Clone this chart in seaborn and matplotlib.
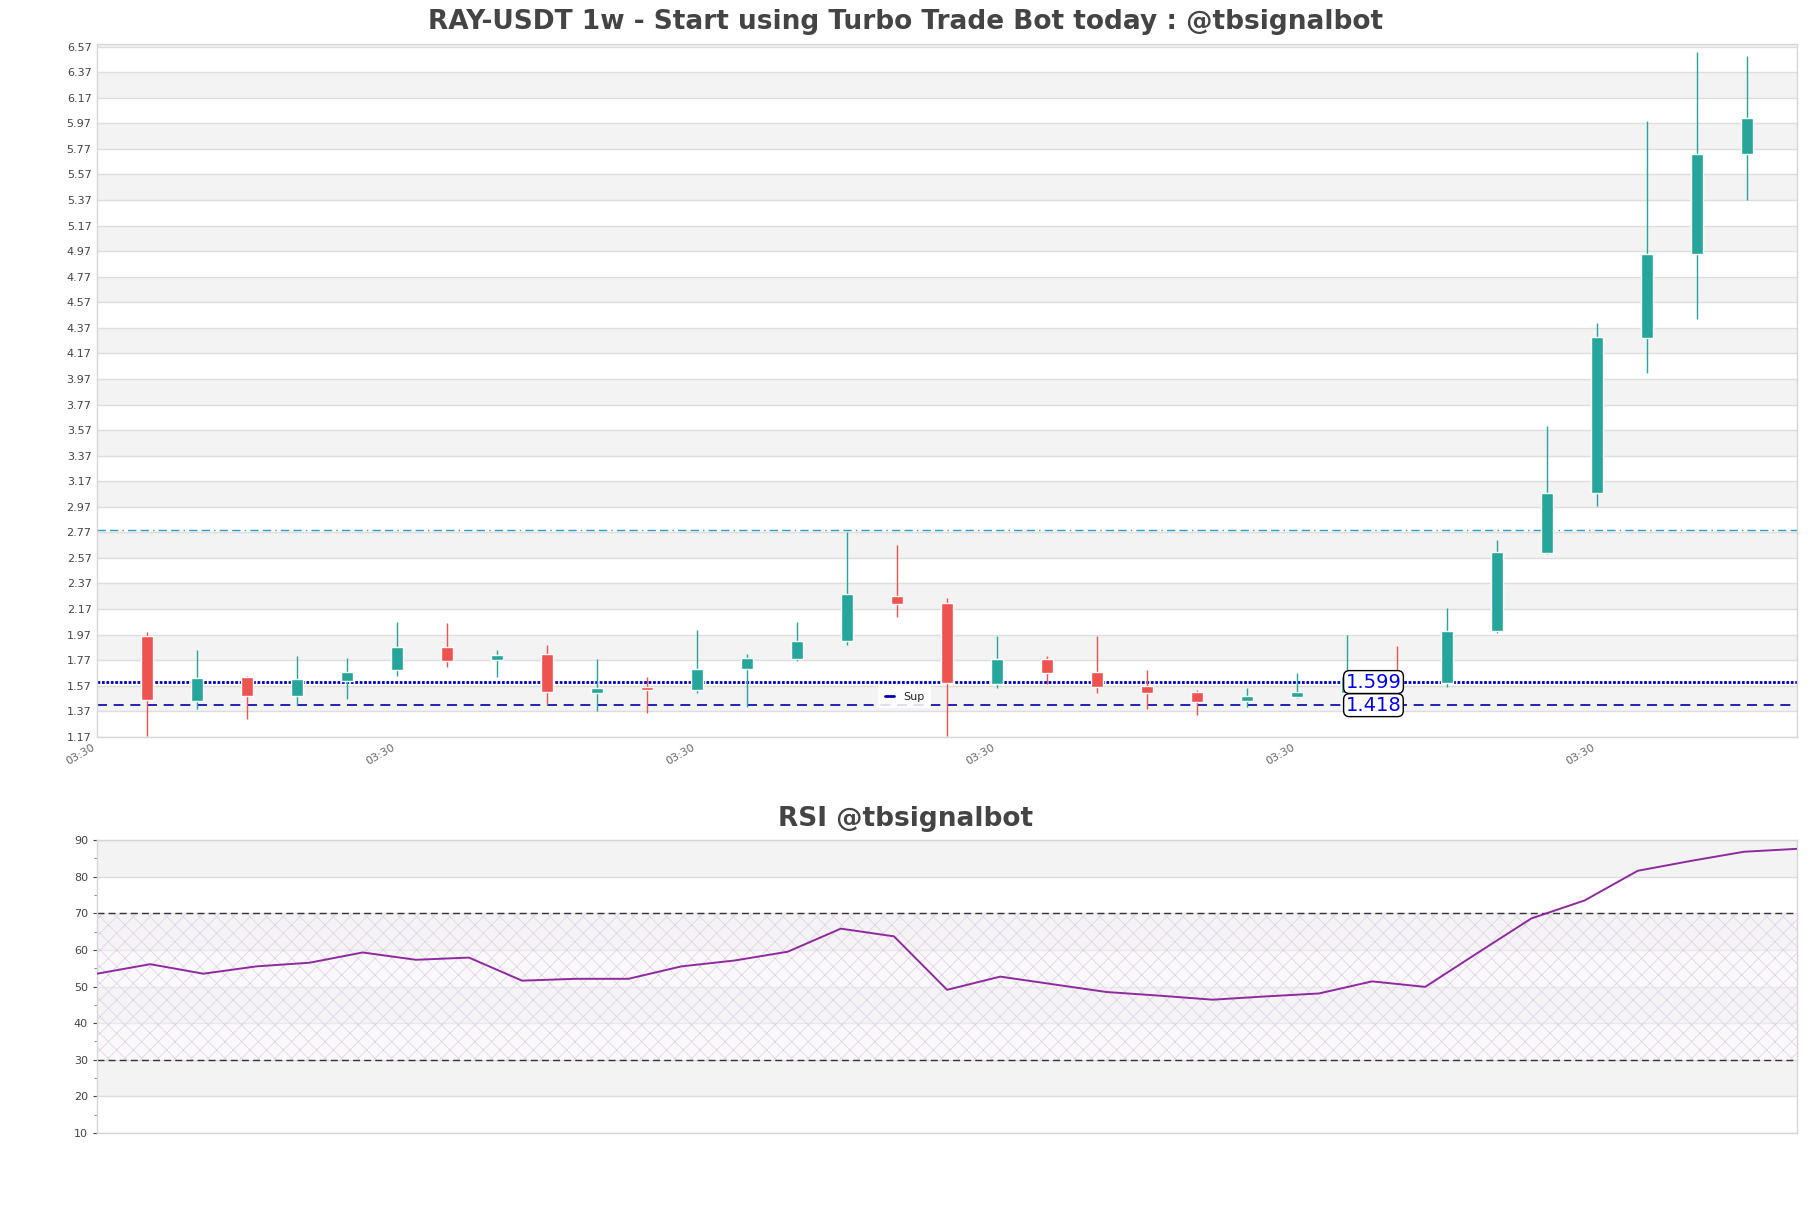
import numpy as np
import pandas as pd
import matplotlib
matplotlib.use('Agg')
import matplotlib.pyplot as plt
import seaborn as sns
from matplotlib.lines import Line2D

# weekly candles
opens  = [1.96, 1.45, 1.64, 1.49, 1.61, 1.69, 1.87, 1.77, 1.82, 1.51, 1.56, 1.54, 1.70,
          1.78, 1.92, 2.27, 2.22, 1.58, 1.78, 1.68, 1.57, 1.52, 1.45, 1.48, 1.51, 1.65,
          1.59, 2.00, 2.61, 3.08, 4.29, 4.95, 5.73]
highs  = [1.99, 1.85, 1.65, 1.80, 1.79, 2.07, 2.06, 1.85, 1.89, 1.78, 1.64, 2.01, 1.82,
          2.07, 2.77, 2.67, 2.26, 1.96, 1.80, 1.96, 1.69, 1.54, 1.55, 1.67, 1.97, 1.88,
          2.18, 2.71, 3.60, 4.41, 5.99, 6.53, 6.50]
lows   = [1.18, 1.39, 1.31, 1.42, 1.47, 1.65, 1.72, 1.64, 1.42, 1.37, 1.36, 1.51, 1.40,
          1.76, 1.89, 2.11, 1.18, 1.55, 1.58, 1.51, 1.39, 1.34, 1.40, 1.475, 1.50, 1.57,
          1.56, 1.98, 2.60, 2.98, 4.02, 4.44, 5.37]
closes = [1.46, 1.63, 1.49, 1.62, 1.68, 1.87, 1.76, 1.81, 1.52, 1.55, 1.54, 1.70, 1.79,
          1.92, 2.29, 2.21, 1.59, 1.78, 1.67, 1.56, 1.51, 1.44, 1.49, 1.52, 1.65, 1.60,
          2.00, 2.62, 3.08, 4.30, 4.95, 5.73, 6.01]

rsi = [53.5, 56.1, 53.5, 55.5, 56.5, 59.3, 57.3, 57.9, 51.6, 52.1, 52.1, 55.5, 57.1,
       59.5, 65.8, 63.7, 49.1, 52.7, 50.6, 48.5, 47.5, 46.4, 47.3, 48.1, 51.4, 49.9,
       59.3, 68.6, 73.5, 81.6, 84.3, 86.8, 87.6]

resistance = 2.785
support_levels = [1.599, 1.418]
support_labels = ['1.599', '1.418']
tick_label = '03:30'

df = pd.DataFrame({'open': opens, 'high': highs, 'low': lows, 'close': closes, 'rsi': rsi})
df['x'] = np.arange(len(df))

sns.set_style('white')
plt.rcParams['font.family'] = ['DejaVu Sans']
plt.rcParams['hatch.linewidth'] = 0.5

green = '#26a69a'
red = '#ef5350'
band = '#f3f3f3'
gridc = '#dedede'
txtc = '#444444'

fig = plt.figure(figsize=(18.11, 12.08), dpi=100)
ax = fig.add_axes([0.0536, 0.39, 0.9387, 0.5735])
ax2 = fig.add_axes([0.0536, 0.0621, 0.9387, 0.2425])

# ---- price panel
yticks = np.round(np.arange(1.17, 6.58, 0.2), 2)
for lo in yticks[1::2]:
    ax.axhspan(lo, lo + 0.2, color=band, lw=0, zorder=0)
for y in yticks:
    ax.axhline(y, color=gridc, lw=1, zorder=0.5)

up = df['close'] >= df['open']
cols = np.where(up, green, red)
ax.vlines(df['x'], df['low'], df['high'], colors=cols, lw=1, zorder=2)
ax.bar(df['x'], (df['close'] - df['open']).abs(), bottom=df[['open', 'close']].min(axis=1),
       width=0.25, color=cols, zorder=3)

ax.axhline(resistance, color='#2a9bd0', lw=1, dashes=(6, 3, 6, 3, 1, 3), zorder=1.5)
ax.axhline(support_levels[0], color='#0000bb', lw=2, ls=(0, (1, 0.6)), zorder=1.5)
ax.axhline(support_levels[1], color='#0000aa', lw=1.2, ls=(0, (6, 4)), zorder=1.5)
for lvl, lab in zip(support_levels, support_labels):
    ax.text(23.97, lvl, lab, ha='left', va='center', color='#0000ee', fontsize=14, zorder=5,
            bbox=dict(boxstyle='round,pad=0.1,rounding_size=0.3', fc='white', ec='black', lw=1))

leg = ax.legend(handles=[Line2D([], [], color='#0000aa', lw=2)], labels=['Sup'],
                loc='center', bbox_to_anchor=(0.475, 0.058), fontsize=8, frameon=True,
                handlelength=0.8, borderpad=0.6)
leg.get_frame().set_edgecolor('none')
leg.get_frame().set_facecolor('white')
leg.get_frame().set_alpha(0.85)

ax.set_xlim(-1, 33)
ax.set_ylim(1.17, 6.59)
ax.set_yticks(yticks)
ax.set_yticklabels([f'{v:.2f}' for v in yticks])
xt = np.arange(-1, 33, 6)
ax.set_xticks(xt)
ax.set_xticklabels([tick_label] * len(xt), rotation=30, ha='right')
ax.tick_params(axis='both', labelsize=8, colors=txtc, length=0, pad=4)
ax.tick_params(axis='x', colors='#666666')
for s in ax.spines.values():
    s.set_color('#d6d6d6')
    s.set_linewidth(1)
ax.set_xlabel('')
ax.set_ylabel('')

# ---- RSI panel
for lo in [20, 40, 60, 80]:
    ax2.axhspan(lo, lo + 10, color=band, lw=0, zorder=0)
for y in range(10, 91, 10):
    ax2.axhline(y, color=gridc, lw=1, zorder=0.5)
ax2.axhspan(30, 70, facecolor='#f7f3f9', alpha=0.5, lw=0, zorder=0.7)
ax2.axhspan(30, 70, facecolor='none', edgecolor='#dccfe3', hatch='xx', lw=0, zorder=0.8)
ax2.axhline(70, color='#333333', lw=1, dashes=(5, 3), zorder=1)
ax2.axhline(30, color='#333333', lw=1, dashes=(5, 3), zorder=1)
sns.lineplot(data=df, x='x', y='rsi', ax=ax2, color='#8e2a9e', lw=1.4, zorder=3)

ax2.set_xlim(0, 32)
ax2.set_ylim(10, 90)
ax2.set_yticks(range(10, 91, 10))
ax2.set_yticks(range(15, 90, 10), minor=True)
ax2.set_xticks([])
ax2.tick_params(axis='y', which='major', labelsize=8, colors=txtc, length=3, width=0.8, left=True)
ax2.tick_params(axis='y', which='minor', length=2, width=0.6, colors='#777777', left=True)
for s in ax2.spines.values():
    s.set_color('#d6d6d6')
    s.set_linewidth(1)
ax2.set_xlabel('')
ax2.set_ylabel('')

fig.text(0.5, 1 - 22 / 1208, 'RAY-USDT 1w - Start using Turbo Trade Bot today : @tbsignalbot',
         ha='center', va='center', fontsize=19, fontweight='bold', color=txtc)
fig.text(0.5, 1 - 819 / 1208, 'RSI @tbsignalbot', ha='center', va='center',
         fontsize=19, fontweight='bold', color=txtc)

fig.savefig('out.png', dpi=100)
